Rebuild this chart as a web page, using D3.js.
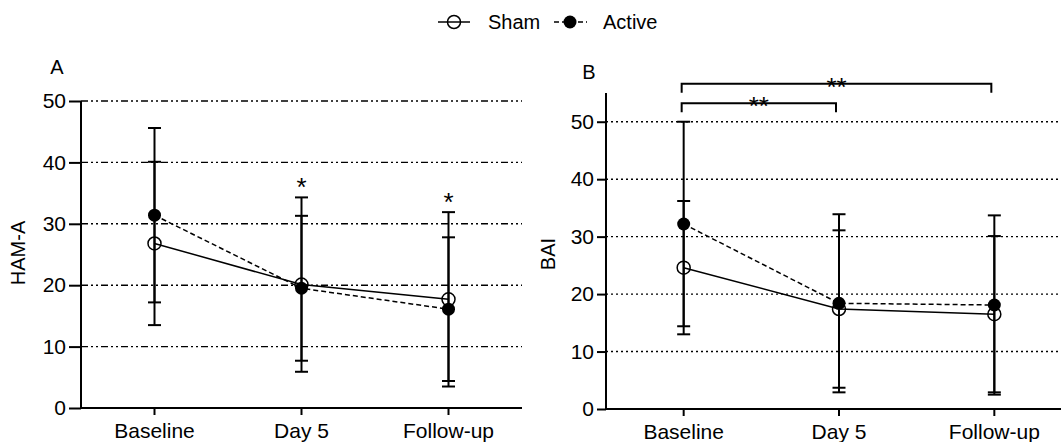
<!DOCTYPE html>
<html>
<head>
<meta charset="utf-8">
<script src="https://cdn.jsdelivr.net/npm/d3@7"></script>
<style>
  body { margin: 0; background: #fff; }
  text { font-family: "Liberation Sans", Arial, sans-serif; fill: #000; }
</style>
</head>
<body>
<div id="chart"></div>
<script>
// categories and values (mean and SD)
var categories = ["Baseline", "Day 5", "Follow-up"];

var hamaShamMean = [26.8, 20.1, 17.7];
var hamaShamSd = [13.3, 14.2, 14.2];
var hamaActiveMean = [31.4, 19.5, 16.1];
var hamaActiveSd = [14.2, 11.8, 11.7];
var hamaStars = ["", "*", "*"];

var baiShamMean = [24.6, 17.4, 16.5];
var baiShamSd = [11.6, 13.7, 13.6];
var baiActiveMean = [32.2, 18.4, 18.1];
var baiActiveSd = [17.8, 15.5, 15.6];
var baiBrackets = [
  { from: "Baseline", to: "Day 5", label: "**", level: 53.2 },
  { from: "Baseline", to: "Follow-up", label: "**", level: 56.6 }
];

var yTicks = [0, 10, 20, 30, 40, 50];

var svgWidth = 1061;
var svgHeight = 442;

var svg = d3.select("#chart")
  .append("svg")
  .attr("width", svgWidth)
  .attr("height", svgHeight);

function series(means, sds) {
  return categories.map(function(c, i) {
    return { cat: c, mean: means[i], sd: sds[i] };
  });
}

function drawPanel(p) {
  var x = d3.scaleBand().domain(categories).range([p.left, p.right]).padding(0);
  var y = d3.scaleLinear().domain([0, p.yMax]).range([p.bottom, p.top]);
  var cx = function(c) { return x(c) + x.bandwidth() / 2; };

  var g = svg.append("g");

  // grid lines
  g.selectAll(".grid")
    .data(yTicks.filter(function(t) { return t > 0; }))
    .enter()
    .append("line")
    .attr("x1", p.left)
    .attr("x2", p.right)
    .attr("y1", function(d) { return y(d); })
    .attr("y2", function(d) { return y(d); })
    .attr("stroke", "#000")
    .attr("stroke-width", 1.4)
    .attr("stroke-dasharray", p.gridDash);

  // axes
  var leftAxis = d3.axisLeft(y).tickValues(yTicks).tickSize(p.yTickSize).tickPadding(3);
  var gy = g.append("g")
    .attr("transform", "translate(" + p.left + ",0)")
    .call(leftAxis);
  gy.select(".domain").attr("d", "M0," + y(p.yMax) + "V" + p.bottom);

  var bottomAxis = d3.axisBottom(x).tickSize(7).tickPadding(8);
  var gx = g.append("g")
    .attr("transform", "translate(0," + p.bottom + ")")
    .call(bottomAxis);
  gx.select(".domain").attr("d", "M" + p.left + ",0H" + p.right);

  g.selectAll(".domain, .tick line").attr("stroke", "#000").attr("stroke-width", 2);
  g.selectAll(".tick text")
    .style("font-family", "Liberation Sans, Arial, sans-serif")
    .style("font-size", "21px")
    .attr("fill", "#000");
  gx.selectAll(".tick text").attr("dy", "0.71em");

  // error bars for both groups
  [p.sham, p.active].forEach(function(s) {
    var eb = g.append("g");
    eb.selectAll(".ebar")
      .data(s)
      .enter()
      .append("line")
      .attr("x1", function(d) { return cx(d.cat); })
      .attr("x2", function(d) { return cx(d.cat); })
      .attr("y1", function(d) { return y(d.mean + d.sd); })
      .attr("y2", function(d) { return y(d.mean - d.sd); })
      .attr("stroke", "#000")
      .attr("stroke-width", 2);
    [1, -1].forEach(function(sign) {
      eb.selectAll(".cap" + sign)
        .data(s)
        .enter()
        .append("line")
        .attr("x1", function(d) { return cx(d.cat) - 6.5; })
        .attr("x2", function(d) { return cx(d.cat) + 6.5; })
        .attr("y1", function(d) { return y(d.mean + sign * d.sd); })
        .attr("y2", function(d) { return y(d.mean + sign * d.sd); })
        .attr("stroke", "#000")
        .attr("stroke-width", 2);
    });
  });

  var line = d3.line()
    .x(function(d) { return cx(d.cat); })
    .y(function(d) { return y(d.mean); });

  g.append("path")
    .datum(p.sham)
    .attr("d", line)
    .attr("fill", "none")
    .attr("stroke", "#000")
    .attr("stroke-width", 1.5);

  g.append("path")
    .datum(p.active)
    .attr("d", line)
    .attr("fill", "none")
    .attr("stroke", "#000")
    .attr("stroke-width", 1.5)
    .attr("stroke-dasharray", "5,3");

  g.selectAll(".sham")
    .data(p.sham)
    .enter()
    .append("circle")
    .attr("cx", function(d) { return cx(d.cat); })
    .attr("cy", function(d) { return y(d.mean); })
    .attr("r", 6.5)
    .attr("fill", "none")
    .attr("stroke", "#000")
    .attr("stroke-width", 1.5);

  g.selectAll(".active")
    .data(p.active)
    .enter()
    .append("circle")
    .attr("cx", function(d) { return cx(d.cat); })
    .attr("cy", function(d) { return y(d.mean); })
    .attr("r", 6.5)
    .attr("fill", "#000");

  // significance stars above top caps
  if (p.stars) {
    g.selectAll(".star")
      .data(categories)
      .enter()
      .append("text")
      .attr("x", function(c) { return cx(c); })
      .attr("y", function(c, i) {
        var top = Math.max(p.sham[i].mean + p.sham[i].sd, p.active[i].mean + p.active[i].sd);
        return y(top) - 1;
      })
      .attr("text-anchor", "middle")
      .style("font-size", "26px")
      .text(function(c, i) { return p.stars[i]; });
  }

  // brackets
  if (p.brackets) {
    p.brackets.forEach(function(b) {
      var x1 = cx(b.from) - 2;
      var x2 = cx(b.to) - 3;
      var yb = y(b.level);
      g.append("path")
        .attr("d", "M" + x1 + "," + (yb + 9) + "V" + yb + "H" + x2 + "V" + (yb + 9))
        .attr("fill", "none")
        .attr("stroke", "#000")
        .attr("stroke-width", 2);
      g.append("text")
        .attr("x", (x1 + x2) / 2)
        .attr("y", yb + 12)
        .attr("text-anchor", "middle")
        .style("font-size", "26px")
        .text(b.label);
    });
  }

  // panel letter and axis title
  g.append("text")
    .attr("x", p.letterX)
    .attr("y", p.letterY)
    .attr("text-anchor", "middle")
    .style("font-size", "20px")
    .text(p.letter);

  g.append("text")
    .attr("transform", "translate(" + p.titleX + "," + p.titleY + ") rotate(-90)")
    .attr("text-anchor", "middle")
    .style("font-size", "20px")
    .text(p.title);
}

drawPanel({
  left: 81, right: 522, top: 101, bottom: 408, yMax: 50,
  yTickSize: 12, gridDash: "7,3,2,3,2,3",
  sham: series(hamaShamMean, hamaShamSd),
  active: series(hamaActiveMean, hamaActiveSd),
  stars: hamaStars,
  letter: "A", letterX: 57, letterY: 74,
  title: "HAM-A", titleX: 25, titleY: 253
});

drawPanel({
  left: 606, right: 1072, top: 93, bottom: 409, yMax: 55,
  yTickSize: 9, gridDash: "2,3",
  sham: series(baiShamMean, baiShamSd),
  active: series(baiActiveMean, baiActiveSd),
  brackets: baiBrackets,
  letter: "B", letterX: 589, letterY: 79,
  title: "BAI", titleX: 555, titleY: 254
});

// legend
var legend = svg.append("g").attr("transform", "translate(0,22)");
legend.append("line").attr("x1", 438).attr("x2", 470).attr("stroke", "#000").attr("stroke-width", 1.5);
legend.append("circle").attr("cx", 454).attr("r", 6.5).attr("fill", "none").attr("stroke", "#000").attr("stroke-width", 1.5);
legend.append("text").attr("x", 488).attr("y", 7).style("font-size", "20px").text("Sham");
legend.append("line").attr("x1", 554).attr("x2", 587).attr("stroke", "#000").attr("stroke-width", 1.5).attr("stroke-dasharray", "5,3");
legend.append("circle").attr("cx", 570).attr("r", 6.5).attr("fill", "#000");
legend.append("text").attr("x", 603).attr("y", 7).style("font-size", "20px").text("Active");
</script>
</body>
</html>
